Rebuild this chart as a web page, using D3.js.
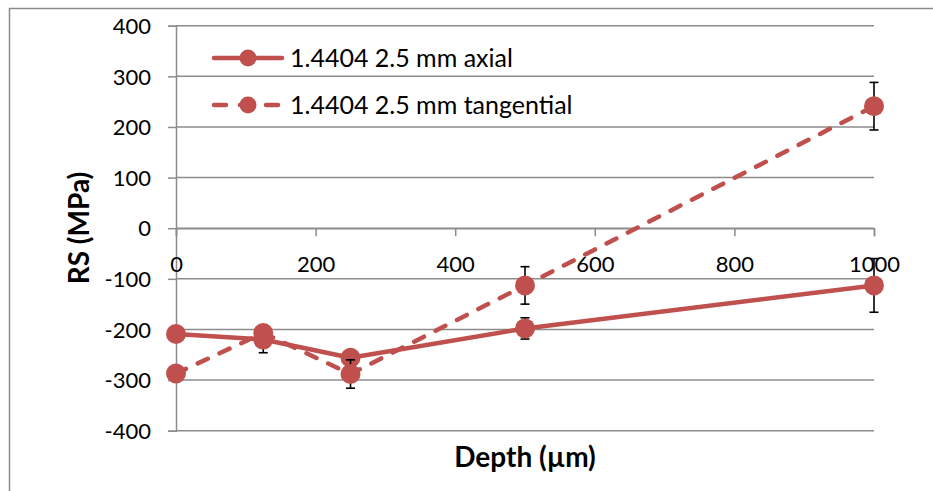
<!DOCTYPE html>
<html>
<head>
<meta charset="utf-8">
<script src="https://cdn.jsdelivr.net/npm/d3@7"></script>
<style>
  html, body { margin: 0; padding: 0; background: #fff; }
  svg { display: block; }
  text { font-family: Lato, "Open Sans", sans-serif; fill: #000; }
</style>
</head>
<body>
<svg id="chart" width="933" height="491"></svg>
<script>
const depth = [0, 125, 250, 500, 1000];
const axial = [-209, -220, -256, -198, -113];
const axialErr = [12, 26, 12, 21, 53];
const tangential = [-287, -207, -288, -113, 241];
const tangentialErr = [12, 15, 28, 37, 47];
const xTicks = [0, 200, 400, 600, 800, 1000];
const yTicks = [-400, -300, -200, -100, 0, 100, 200, 300, 400];
const seriesNames = ["1.4404 2.5 mm axial", "1.4404 2.5 mm tangential"];

const color = "#C0504D";
const grid = "#8c8c8c";
const svg = d3.select("#chart");
const fmt = d => String(d);

// outer frame
svg.append("rect").attr("x", 9.5).attr("y", 8.5).attr("width", 940).attr("height", 500)
  .attr("fill", "#fff").attr("stroke", grid).attr("stroke-width", 1.5);

const x = d3.scaleLinear().domain([0, 1000]).range([176, 874]);
const y = d3.scaleLinear().domain([-400, 400]).range([430.7, 25.7]);

// horizontal gridlines
svg.append("g").selectAll("line").data(yTicks).join("line")
  .attr("x1", x(0)).attr("x2", x(1000))
  .attr("y1", d => y(d)).attr("y2", d => y(d))
  .attr("stroke", grid).attr("stroke-width", 1.5);

// y axis
const yAxis = svg.append("g").attr("transform", `translate(${x(0)},0)`)
  .call(d3.axisLeft(y).tickValues(yTicks).tickSize(8).tickPadding(17).tickFormat(fmt));
yAxis.select(".domain").attr("stroke", grid).attr("stroke-width", 1.5);
yAxis.selectAll(".tick line").attr("stroke", grid).attr("stroke-width", 1.5);
yAxis.selectAll("text").style("font-size", "22px").style("font-family", "Lato").attr("fill", "#000")
  .attr("dy", "0.35em");

// x axis at y = 0
const xAxis = svg.append("g").attr("transform", `translate(0,${y(0)})`)
  .call(d3.axisBottom(x).tickValues(xTicks).tickSize(8).tickFormat(fmt));
xAxis.select(".domain").attr("stroke", grid).attr("stroke-width", 1.5);
xAxis.selectAll(".tick line").attr("stroke", grid).attr("stroke-width", 1.5);
xAxis.selectAll("text").style("font-size", "22px").style("font-family", "Lato").attr("fill", "#000")
  .attr("y", 36).attr("dy", "0.35em");

// axis titles
svg.append("text").attr("x", 525).attr("y", 467).attr("text-anchor", "middle")
  .style("font-size", "28px").style("font-weight", "bold").text("Depth (µm)");
svg.append("text").attr("transform", `translate(89,228) rotate(-90)`).attr("text-anchor", "middle")
  .style("font-size", "28px").style("font-weight", "bold").text("RS (MPa)");

const series = [
  { vals: axial, err: axialErr, dash: null },
  { vals: tangential, err: tangentialErr, dash: "11,13" }
];

const line = d3.line().x(d => x(d[0])).y(d => y(d[1]));

series.forEach(s => {
  const pts = depth.map((d, i) => [d, s.vals[i], s.err[i]]);
  const g = svg.append("g");
  g.append("path").attr("d", line(pts)).attr("fill", "none")
    .attr("stroke", color).attr("stroke-width", 4.5)
    .attr("stroke-linecap", "round").attr("stroke-linejoin", "round")
    .attr("stroke-dasharray", s.dash);
  // error bars
  const eb = g.append("g").attr("stroke", "#000").attr("stroke-width", 1.6);
  pts.forEach(p => {
    const cx = x(p[0]), y1 = y(p[1] + p[2]), y2 = y(p[1] - p[2]);
    eb.append("line").attr("x1", cx).attr("x2", cx).attr("y1", y1).attr("y2", y2);
    eb.append("line").attr("x1", cx - 4.5).attr("x2", cx + 4.5).attr("y1", y1).attr("y2", y1);
    eb.append("line").attr("x1", cx - 4.5).attr("x2", cx + 4.5).attr("y1", y2).attr("y2", y2);
  });
  g.selectAll("circle").data(pts).join("circle")
    .attr("cx", d => x(d[0])).attr("cy", d => y(d[1])).attr("r", 10)
    .attr("fill", color);
});

// legend
const legY = [58, 105];
series.forEach((s, i) => {
  const g = svg.append("g");
  g.append("line").attr("x1", 214).attr("x2", s.dash ? 278 : 282).attr("y1", legY[i]).attr("y2", legY[i])
    .attr("stroke", color).attr("stroke-width", 4.5).attr("stroke-linecap", "round")
    .attr("stroke-dasharray", s.dash ? "12,14" : null);
  g.append("circle").attr("cx", 248).attr("cy", legY[i]).attr("r", 8.5).attr("fill", color);
  g.append("text").attr("x", 290).attr("y", legY[i]).attr("dy", "0.35em")
    .style("font-size", "25px").text(seriesNames[i]);
});
</script>
</body>
</html>
